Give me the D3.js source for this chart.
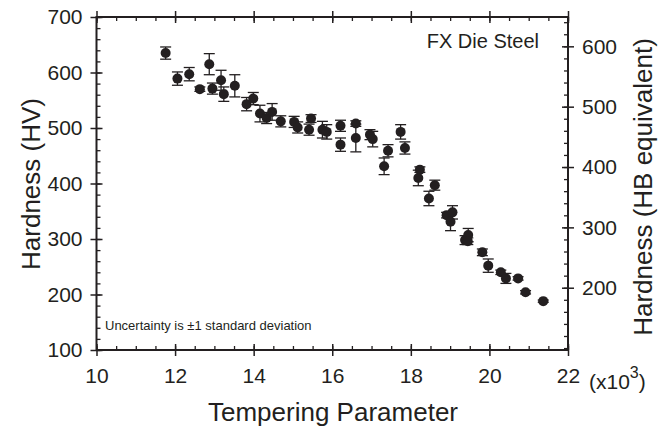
<!DOCTYPE html>
<html>
<head>
<meta charset="utf-8">
<script src="https://cdn.jsdelivr.net/npm/d3@7"></script>
<style>
  body { margin: 0; background: #fff; }
  text { font-family: "Liberation Sans", Arial, sans-serif; fill: #231f20; }
</style>
</head>
<body>
<div id="chart"></div>
<script>
// tempering parameter (x10^3)
const tempParam = [11.76, 12.06, 12.36, 12.63, 12.87, 12.95, 13.17, 13.24, 13.52, 13.82,
  13.99, 14.16, 14.33, 14.47, 14.69, 15.03, 15.12, 15.41, 15.46, 15.75,
  15.86, 16.21, 16.21, 16.60, 16.60, 16.96, 17.03, 17.32, 17.42, 17.74,
  17.85, 18.23, 18.19, 18.46, 18.61, 18.91, 19.06, 19.01, 19.38, 19.46,
  19.45, 19.82, 19.97, 20.29, 20.42, 20.73, 20.92, 21.37];
// hardness HV
const hardness = [635, 589, 597, 570, 615, 571, 586, 561, 576, 543,
  553, 526, 518, 529, 512, 511, 501, 497, 517, 497,
  493, 504, 470, 508, 482, 488, 480, 431, 459, 493,
  464, 425, 410, 373, 397, 343, 348, 331, 298, 307,
  296, 276, 252, 240, 229, 229, 204, 188];
// +/- 1 standard deviation (HV)
const stdev = [11, 12, 12, 4, 19, 10, 18, 13, 20, 12,
  11, 15, 10, 15, 10, 10, 10, 10, 7, 15,
  13, 10, 12, 5, 25, 9, 14, 15, 11, 13,
  11, 5, 14, 13, 9, 5, 12, 16, 8, 12,
  6, 6, 12, 4, 9, 3, 3, 2];

const xTicks = [10, 12, 14, 16, 18, 20, 22];
const yTicks = [100, 200, 300, 400, 500, 600, 700];
const hbTicks = [200, 300, 400, 500, 600];

const data = tempParam.map((t, i) => ({t: t, hv: hardness[i], sd: stdev[i]}));

const W = 660, H = 433;
const mLeft = 96.5, mRight = 568, mTop = 17, mBottom = 350;

const svg = d3.select("#chart").append("svg")
  .attr("width", W).attr("height", H);

const x = d3.scaleLinear().domain([10, 22]).range([mLeft, mRight]);
const y = d3.scaleLinear().domain([100, 700]).range([mBottom, mTop]);
// HB equivalent scale on the right side
const yHB = d3.scaleLinear().domain([96.8, 648.6]).range([mBottom, mTop]);

const fmt = d3.format("d");

// minor ticks
function minor(axisFn, scale, vals, pos, size) {
  svg.append("g")
    .attr("transform", pos)
    .call(axisFn(scale).tickValues(vals).tickSize(size).tickFormat(""))
    .call(g => g.select(".domain").remove())
    .call(g => g.selectAll("line").attr("stroke", "#231f20").attr("stroke-width", 1.3));
}

const xMinor = d3.range(10, 22.01, 0.5);
const yMinor = d3.range(100, 700.1, 20);
const hbMinor = d3.range(100, 641, 20);

minor(d3.axisTop, x, xMinor, `translate(0,${mBottom})`, 4);
minor(d3.axisBottom, x, xMinor, `translate(0,${mTop})`, 4);
minor(d3.axisRight, y, yMinor, `translate(${mLeft},0)`, 4);
minor(d3.axisLeft, yHB, hbMinor, `translate(${mRight},0)`, 4);

// major ticks crossing the frame
const bx = svg.append("g").attr("transform", `translate(0,${mBottom})`)
  .call(d3.axisBottom(x).tickValues(xTicks).tickSize(6).tickPadding(12).tickFormat(fmt));
bx.selectAll(".tick").append("line").attr("y2", -6);

const tx = svg.append("g").attr("transform", `translate(0,${mTop})`)
  .call(d3.axisTop(x).tickValues(xTicks).tickSize(6).tickFormat(""));
tx.selectAll(".tick").append("line").attr("y2", 6);

const ly = svg.append("g").attr("transform", `translate(${mLeft},0)`)
  .call(d3.axisLeft(y).tickValues(yTicks).tickSize(6).tickPadding(8).tickFormat(fmt));
ly.selectAll(".tick").append("line").attr("x2", 6);

const ry = svg.append("g").attr("transform", `translate(${mRight},0)`)
  .call(d3.axisRight(yHB).tickValues(hbTicks).tickSize(6).tickPadding(8).tickFormat(fmt));
ry.selectAll(".tick").append("line").attr("x2", -6);

[bx, tx, ly, ry].forEach(g => {
  g.select(".domain").remove();
  g.selectAll("line").attr("stroke", "#231f20").attr("stroke-width", 1.5);
  g.selectAll("text").style("font-size", "21px").attr("fill", "#231f20");
});

// frame
svg.append("rect")
  .attr("x", mLeft).attr("y", mTop)
  .attr("width", mRight - mLeft).attr("height", mBottom - mTop)
  .attr("fill", "none").attr("stroke", "#231f20").attr("stroke-width", 2);

// error bars
const eb = svg.append("g").selectAll("g").data(data).join("g");
eb.append("line")
  .attr("x1", d => x(d.t)).attr("x2", d => x(d.t))
  .attr("y1", d => y(d.hv - d.sd)).attr("y2", d => y(d.hv + d.sd))
  .attr("stroke", "#231f20").attr("stroke-width", 1.3);
eb.selectAll(".cap").data(d => [d.hv - d.sd, d.hv + d.sd].map(v => ({t: d.t, v: v})))
  .join("line").attr("class", "cap")
  .attr("x1", d => x(d.t) - 5.5).attr("x2", d => x(d.t) + 5.5)
  .attr("y1", d => y(d.v)).attr("y2", d => y(d.v))
  .attr("stroke", "#231f20").attr("stroke-width", 1.3);

// points
svg.append("g").selectAll("circle").data(data).join("circle")
  .attr("cx", d => x(d.t)).attr("cy", d => y(d.hv))
  .attr("r", 5).attr("fill", "#231f20");

// annotations
svg.append("text").attr("x", 539).attr("y", 48).attr("text-anchor", "end")
  .style("font-size", "20px").text("FX Die Steel");
svg.append("text").attr("x", 105).attr("y", 330)
  .style("font-size", "13px").text("Uncertainty is \u00b11 standard deviation");

// x multiplier
const mult = svg.append("text").attr("x", 589).attr("y", 389).style("font-size", "21px");
mult.append("tspan").text("(x10");
mult.append("tspan").attr("dy", -11).style("font-size", "16px").text("3");
mult.append("tspan").attr("dy", 11).text(")");

// axis titles
svg.append("text").attr("x", 333).attr("y", 421).attr("text-anchor", "middle")
  .style("font-size", "26px").text("Tempering Parameter");
svg.append("text").attr("transform", "translate(40,184) rotate(-90)").attr("text-anchor", "middle")
  .style("font-size", "26px").text("Hardness (HV)");
svg.append("text").attr("transform", "translate(652,187) rotate(-90)").attr("text-anchor", "middle")
  .style("font-size", "26px").text("Hardness (HB equivalent)");
</script>
</body>
</html>
